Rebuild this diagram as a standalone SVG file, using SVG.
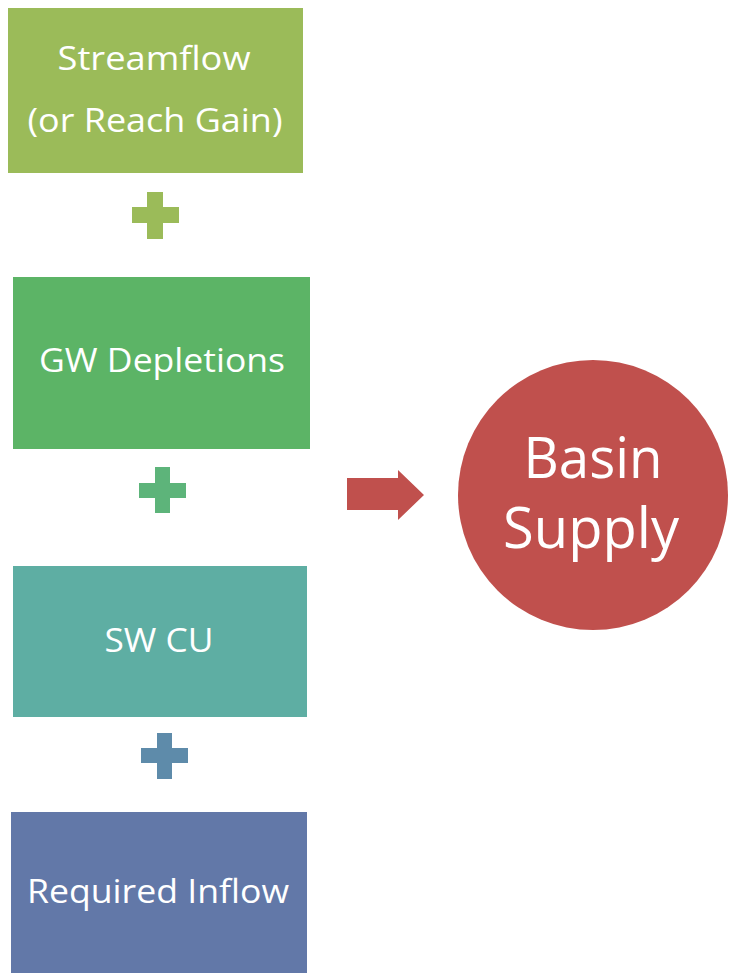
<svg xmlns="http://www.w3.org/2000/svg" width="729" height="973" viewBox="0 0 729 973">
<style>
.t{font-family:"Open Sans","Noto Sans",sans-serif;fill:#ffffff;text-anchor:middle}
.s{font-size:32px}
.b{font-size:56px}
</style>
<rect width="729" height="973" fill="#ffffff"/>
<g id="streamflow">
<rect x="8" y="8" width="295" height="165" fill="#9BBB59"/>
<text class="t s" x="154" y="70" textLength="193" lengthAdjust="spacingAndGlyphs">Streamflow</text>
<text class="t s" x="155" y="132" textLength="255" lengthAdjust="spacingAndGlyphs">(or Reach Gain)</text>
</g>
<g id="gw-depletions">
<rect x="13" y="277" width="297" height="172" fill="#5CB466"/>
<text class="t s" x="162" y="372" textLength="246" lengthAdjust="spacingAndGlyphs">GW Depletions</text>
</g>
<g id="sw-cu">
<rect x="13" y="566" width="294" height="151" fill="#5EAEA3"/>
<text class="t s" x="159" y="652" textLength="109" lengthAdjust="spacingAndGlyphs">SW CU</text>
</g>
<g id="required-inflow">
<rect x="11" y="812" width="296" height="161" fill="#6278A8"/>
<text class="t s" x="158" y="903" textLength="262" lengthAdjust="spacingAndGlyphs">Required Inflow</text>
</g>
<g id="basin-supply">
<circle cx="593" cy="495" r="135" fill="#C0504D"/>
<text class="t b" x="593" y="478" textLength="139" lengthAdjust="spacingAndGlyphs">Basin</text>
<text class="t b" x="591" y="548" textLength="176" lengthAdjust="spacingAndGlyphs">Supply</text>
</g>
<g id="connectors">
<path d="M147 192H163V207H179V223H163V239H147V223H132V207H147Z" fill="#9BBB59"/>
<path d="M155 467H170V483H186V498H170V513H155V498H139V483H155Z" fill="#5DB47A"/>
<path d="M157 733H172V748H188V763H172V779H157V763H141V748H157Z" fill="#5E8BAA"/>
<path d="M347 478H398V470L424 495L398 520V510H347Z" fill="#C0504D"/>
</g>
</svg>
